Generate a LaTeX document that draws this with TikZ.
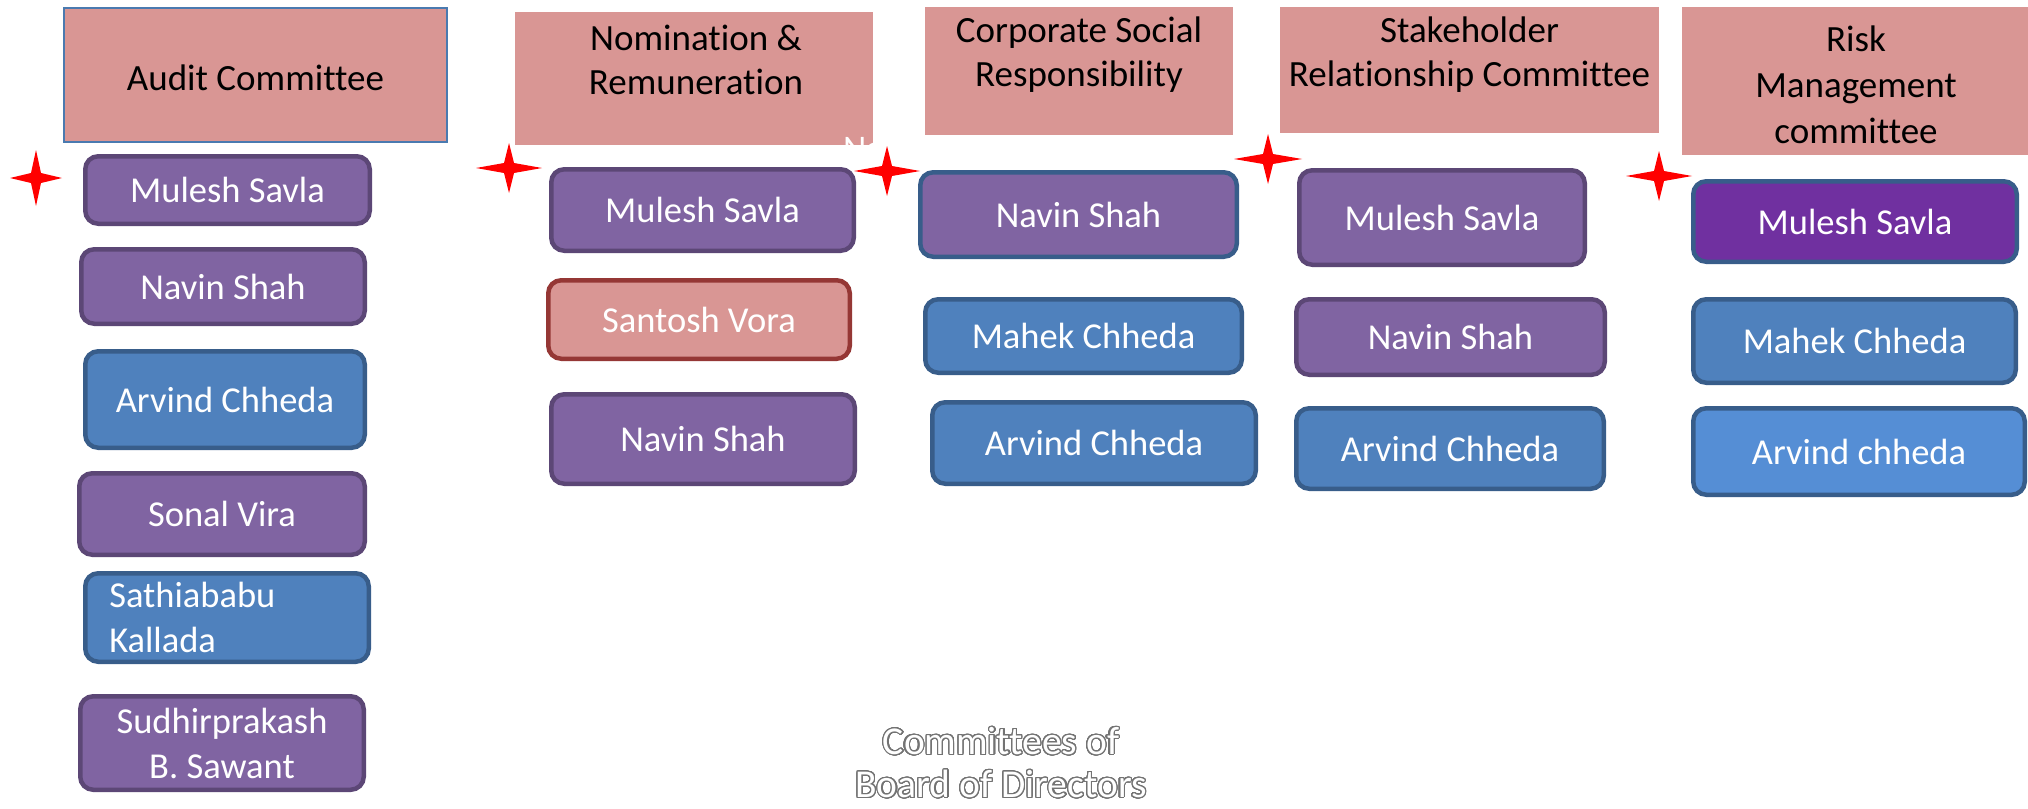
\documentclass[tikz,border=0pt]{standalone}
\usepackage{fontspec}
\setmainfont{Carlito}[Ligatures=NoCommon]
\usepackage{contour}
\contourlength{1.1pt}
\contournumber{32}
\definecolor{hdr}{HTML}{D99694}
\definecolor{hdrb}{HTML}{4A7AB0}
\definecolor{purp}{HTML}{8064A2}
\definecolor{purpd}{HTML}{5C4776}
\definecolor{blu}{HTML}{4F81BD}
\definecolor{blud}{HTML}{385D8A}
\definecolor{redd}{HTML}{953735}
\definecolor{vio}{HTML}{7030A0}
\definecolor{lblu}{HTML}{558ED5}
\tikzset{
  member/.style={rounded corners=13pt, line width=4.5pt, text=white,
    font=\fontsize{36.5}{45}\selectfont, align=center, inner sep=0pt},
  purpbox/.style={member, fill=purp, draw=purpd},
  blubox/.style={member, fill=blu, draw=blud},
  hbox/.style={fill=hdr, inner sep=0pt},
  htext/.style={font=\fontsize{37}{44}\selectfont, align=center, text=black, inner sep=0pt},
  starshape/.style={fill=red, draw=none}
}
\newcommand{\fourstar}[3]{% center, rx, ry
  \fill[starshape] (#1) +(#2,0) -- +(5,-5) -- +(0,-#3) -- +(-5,-5) -- +(-#2,0) -- +(-5,5) -- +(0,#3) -- +(5,5) -- cycle;}
\begin{document}
\begin{tikzpicture}[x=1pt,y=-1pt]
\useasboundingbox (0,0) rectangle (2028,808);
\fill[white] (0,0) rectangle (2028,808);

% headers
\node[hbox, draw=hdrb, line width=2pt, minimum width=383pt, minimum height=134pt] (a0) at (255.5,75) {};
\node[htext] (a0t) at (255.5,78) {Audit Committee};
\node[hbox, minimum width=358pt, minimum height=133pt] (n0) at (694,78.5) {};
\node[htext] (n0t) at (696,59.5) {Nomination \&\\Remuneration};
\node[inner sep=0pt, anchor=base west, text=white, font=\fontsize{36}{42}\selectfont] (nfrag) at (843,160) {Na};
\node[hbox, minimum width=308pt, minimum height=128pt] (c0) at (1079,71) {};
\node[htext] (c0t) at (1079,55) {Corporate Social\\Responsibility};
\node[hbox, minimum width=379pt, minimum height=126pt] (s0) at (1469.5,70) {};
\node[htext] (s0t) at (1469.5,55) {Stakeholder\\Relationship Committee};
\node[hbox, minimum width=346pt, minimum height=148pt] (r0) at (1855,81) {};
\node[htext, font=\fontsize{37}{46}\selectfont] (r0t) at (1856,85) {Risk\\Management\\committee};

% Audit committee members
\node[purpbox, minimum width=284.5pt, minimum height=67.5pt] (a1) at (227.5,190) {Mulesh Savla};
\node[purpbox, minimum width=283.5pt, minimum height=74.5pt] (a2) at (223,286.5) {Navin Shah};
\node[blubox, minimum width=279.5pt, minimum height=96.5pt] (a3) at (225,399.5) {Arvind Chheda};
\node[purpbox, minimum width=285.5pt, minimum height=81.5pt] (a4) at (222,514) {Sonal Vira};
\node[blubox, minimum width=283.5pt, minimum height=88.5pt, align=left, text width=235.5pt, inner xsep=24pt] (a5) at (227,617.5) {Sathiababu\\Kallada};
\node[purpbox, minimum width=283.5pt, minimum height=93.5pt] (a6) at (222,743) {Sudhirprakash\\B. Sawant};

% Nomination members
\node[purpbox, minimum width=302.5pt, minimum height=81.5pt] (n1) at (702.5,210) {Mulesh Savla};
\node[member, fill=hdr, draw=redd, minimum width=301.5pt, minimum height=78.5pt] (n2) at (699,319.5) {Santosh Vora};
\node[purpbox, minimum width=303.5pt, minimum height=89.5pt] (n3) at (703,439) {Navin Shah};

% CSR members
\node[purpbox, draw=blud, minimum width=316.5pt, minimum height=84.5pt] (c1) at (1078.5,214.5) {Navin Shah};
\node[blubox, minimum width=316.5pt, minimum height=73.5pt] (c2) at (1083.5,336) {Mahek Chheda};
\node[blubox, minimum width=323.5pt, minimum height=81.5pt] (c3) at (1094,443) {Arvind Chheda};

% Stakeholder members
\node[purpbox, minimum width=285.5pt, minimum height=94.5pt] (s1) at (1442,217.5) {Mulesh Savla};
\node[purpbox, minimum width=308.5pt, minimum height=75.5pt] (s2) at (1450.5,337) {Navin Shah};
\node[blubox, minimum width=307.5pt, minimum height=80.5pt] (s3) at (1450,448.5) {Arvind Chheda};

% Risk members
\node[member, fill=vio, draw=blud, minimum width=323.5pt, minimum height=80.5pt] (r1) at (1855,221.5) {Mulesh Savla};
\node[blubox, minimum width=322.5pt, minimum height=83.5pt] (r2) at (1854.5,341) {Mahek Chheda};
\node[member, fill=lblu, draw=blud, minimum width=331.5pt, minimum height=86.5pt] (r3) at (1859,451.5) {Arvind chheda};

% stars
\fourstar{36,178}{26}{28}
\fourstar{509,168}{33}{25}
\fourstar{887,171}{33}{25}
\fourstar{1268,159}{34}{25}
\fourstar{1659,176}{33}{25}

% bottom title
\node[text=white, font=\fontsize{39.5}{43}\selectfont, align=center, inner sep=0pt] (title) at (1001,763)
  {\contour{black!55}{Committees of}\\\contour{black!55}{Board of Directors}};
\end{tikzpicture}
\end{document}
